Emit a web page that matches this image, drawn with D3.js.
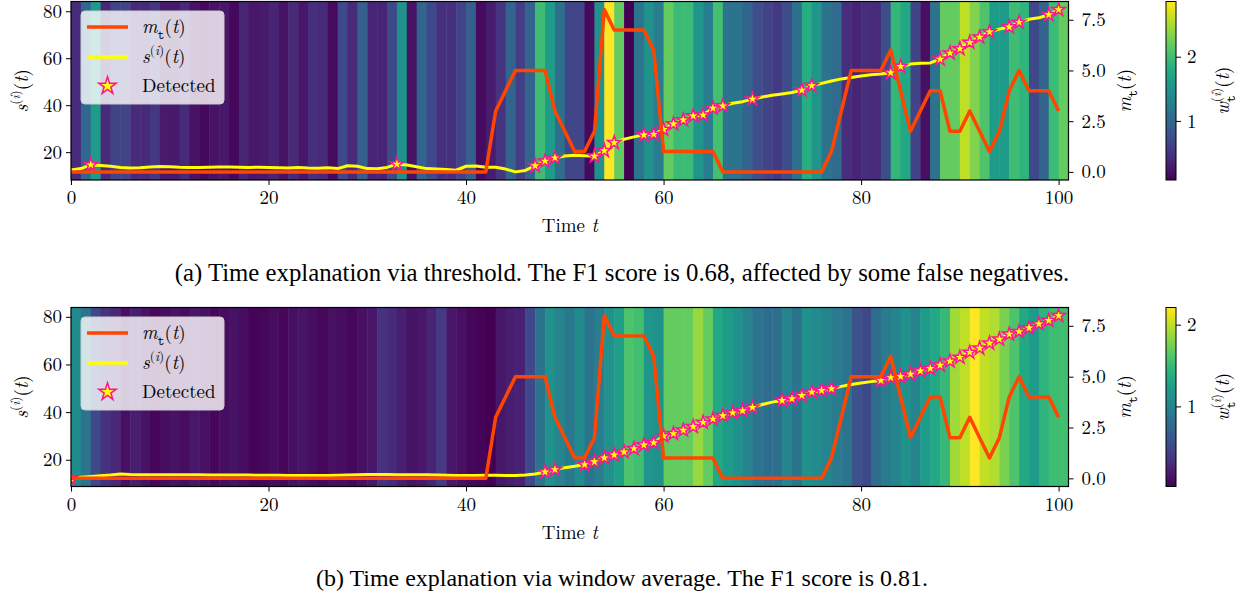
<!DOCTYPE html>
<html>
<head>
<meta charset="utf-8">
<script src="https://cdn.jsdelivr.net/npm/d3@7"></script>
<style>
  html, body { margin: 0; padding: 0; background: #fff; }
  svg { display: block; }
</style>
</head>
<body>
<svg id="chart" width="1244" height="602"></svg>
<script>
// Time explanation figure: a weight heatmap per time step, the anomaly score
// s(t), the detected steps (stars) and the true anomaly magnitude m_t(t).

// Time steps 0..100 (one heatmap cell per step).
var timeSteps = d3.range(0, 101);

// True anomaly magnitude, shared by both panels (right axis).
var mValues = [
  0, 0, 0, 0, 0, 0, 0, 0, 0, 0,
  0, 0, 0, 0, 0, 0, 0, 0, 0, 0,
  0, 0, 0, 0, 0, 0, 0, 0, 0, 0,
  0, 0, 0, 0, 0, 0, 0, 0, 0, 0,
  0, 0, 0, 3, 4, 5, 5, 5, 5, 3,
  2, 1, 1, 2, 8, 7, 7, 7, 7, 6,
  1, 1, 1, 1, 1, 1, 0, 0, 0, 0,
  0, 0, 0, 0, 0, 0, 0, 1, 3, 5,
  5, 5, 5, 6, 4, 2, 3, 4, 4, 2,
  2, 3, 2, 1, 2, 4, 5, 4, 4, 4,
  3
];

// Panel (a): threshold.
var sThreshold = [
  12.4, 13.0, 14.6, 14.3, 14.0, 13.5, 13.3, 13.4, 13.7, 13.9,
  13.8, 13.6, 13.5, 13.5, 13.6, 13.7, 13.7, 13.6, 13.5, 13.6,
  13.5, 13.4, 13.3, 13.5, 13.3, 13.2, 13.4, 13.0, 14.2, 14.0,
  13.0, 12.9, 13.5, 14.9, 14.5, 13.8, 13.0, 12.8, 12.6, 12.3,
  14.0, 14.1, 13.6, 13.6, 12.8, 11.6, 12.2, 14.2, 16.2, 17.6,
  18.4, 18.7, 18.5, 18.3, 20.6, 24.0, 25.5, 26.5, 27.3, 27.6,
  29.7, 32.0, 33.7, 35.4, 35.8, 38.7, 39.7, 40.8, 41.5, 42.6,
  43.5, 44.2, 44.8, 45.4, 46.4, 48.3, 49.3, 50.3, 51.2, 51.8,
  52.4, 53.0, 53.3, 53.8, 56.5, 57.5, 57.9, 58.0, 59.6, 62.2,
  64.0, 66.7, 69.0, 71.2, 72.4, 73.3, 75.3, 76.6, 77.2, 78.5,
  80.7
];
var wThreshold = [
  0.41, 1.00, 1.61, 0.41, 0.64, 0.64, 0.41, 0.41, 0.52, 0.27,
  0.27, 0.41, 0.22, 0.14, 0.22, 0.25, 0.14, 0.36, 0.25, 0.27,
  0.36, 0.22, 0.41, 0.25, 0.47, 0.41, 0.16, 0.69, 0.41, 0.91,
  0.36, 0.36, 0.69, 1.47, 0.22, 0.97, 0.69, 0.47, 0.47, 0.64,
  0.91, 0.16, 0.30, 0.50, 0.97, 0.58, 0.97, 2.00, 1.61, 1.08,
  0.66, 0.66, 0.16, 1.47, 2.86, 2.19, 0.08, 1.14, 1.47, 1.25,
  2.19, 1.97, 1.97, 1.53, 1.25, 2.03, 1.14, 1.14, 0.97, 0.75,
  0.64, 0.55, 0.72, 1.08, 1.80, 1.53, 1.14, 1.03, 0.44, 0.36,
  0.44, 0.41, 0.75, 1.91, 1.75, 0.64, 0.19, 1.14, 2.19, 2.19,
  2.58, 2.33, 2.08, 1.61, 1.61, 2.00, 1.89, 0.69, 0.97, 1.97,
  2.19
];
var detectedThreshold = [2, 33, 47, 48, 49, 53, 54, 55, 58, 59, 60, 61, 62,
  63, 64, 65, 66, 69, 74, 75, 83, 84, 88, 89, 90, 91, 92, 93, 95, 96, 99, 100];

// Panel (b): window average.
var sWindow = [
  12.2, 12.7, 13.0, 13.3, 13.6, 14.0, 13.8, 13.7, 13.7, 13.7,
  13.7, 13.7, 13.7, 13.7, 13.6, 13.6, 13.6, 13.6, 13.6, 13.5,
  13.5, 13.5, 13.4, 13.4, 13.4, 13.4, 13.4, 13.5, 13.6, 13.7,
  13.8, 13.8, 13.8, 13.7, 13.7, 13.7, 13.7, 13.6, 13.5, 13.4,
  13.4, 13.4, 13.5, 13.5, 13.4, 13.4, 13.6, 14.0, 14.9, 15.9,
  16.7, 17.3, 18.0, 19.2, 20.8, 22.0, 23.3, 24.7, 26.2, 27.2,
  30.0, 31.0, 32.4, 33.9, 35.7, 37.1, 38.5, 39.7, 40.6, 42.0,
  43.2, 44.2, 44.9, 45.6, 47.0, 48.4, 49.1, 49.8, 50.8, 51.6,
  52.2, 52.8, 53.3, 54.5, 55.0, 55.9, 57.3, 58.3, 59.7, 61.4,
  63.0, 65.1, 66.8, 68.9, 70.6, 72.7, 73.8, 75.3, 77.0, 78.5,
  80.5
];
var wWindow = [
  1.07, 0.85, 0.50, 0.33, 0.26, 0.11, 0.20, 0.13, 0.06, 0.09,
  0.13, 0.09, 0.15, 0.11, 0.06, 0.09, 0.13, 0.09, 0.04, 0.06,
  0.09, 0.06, 0.11, 0.13, 0.09, 0.06, 0.11, 0.09, 0.06, 0.11,
  0.15, 0.33, 0.28, 0.20, 0.13, 0.15, 0.24, 0.39, 0.15, 0.11,
  0.06, 0.04, 0.02, 0.15, 0.20, 0.22, 0.50, 0.85, 1.12, 1.01,
  0.90, 1.07, 0.85, 0.94, 1.12, 1.25, 1.60, 1.55, 1.16, 1.12,
  1.68, 1.68, 1.68, 1.86, 1.68, 1.33, 1.22, 1.12, 1.01, 0.85,
  0.79, 0.81, 1.01, 0.85, 1.12, 1.07, 1.01, 0.92, 0.85, 0.57,
  0.50, 0.79, 0.92, 1.01, 1.12, 1.01, 1.22, 1.33, 1.49, 1.90,
  1.99, 2.21, 2.01, 1.95, 1.77, 1.60, 1.33, 1.22, 1.44, 1.53,
  1.55
];
var detectedWindow = [0, 48, 49, 52, 53, 54, 55, 56, 57, 58, 59, 60, 61, 62,
  63, 64, 65, 66, 67, 68, 69, 72, 73, 74, 75, 76, 77, 82, 83, 84, 85, 86, 87,
  88, 89, 90, 91, 92, 93, 94, 95, 96, 97, 98, 99, 100];

// Tick values.
var xTicks = [0, 20, 40, 60, 80, 100];
var sTicks = [20, 40, 60, 80];
var mTicks = [0, 2.5, 5, 7.5];
var wTicks = [1, 2];

var captionA = '(a) Time explanation via threshold. The F1 score is 0.68, affected by some false negatives.';
var captionB = '(b) Time explanation via window average. The F1 score is 0.81.';

// Labels with math parts: i = italic, sub / sup = scripts, mono = typewriter.
// back = shift the superscript back over the subscript before it.
var labelM = [{t: 'm', i: 1}, {t: 't', sub: 1, mono: 1}, {t: '('}, {t: 't', i: 1}, {t: ')'}];
var labelS = [{t: 's', i: 1}, {t: '(', sup: 1}, {t: 'i', sup: 1, i: 1}, {t: ')', sup: 1},
  {t: '('}, {t: 't', i: 1}, {t: ')'}];
var labelW = [{t: 'w', i: 1}, {t: 't', sub: 1, mono: 1}, {t: '(', sup: 1, back: 1},
  {t: 'i', sup: 1, i: 1}, {t: ')', sup: 1}, {t: '('}, {t: 't', i: 1}, {t: ')'}];
var labelTime = [{t: 'Time '}, {t: 't', i: 1}];

// Fonts: Computer Modern look for the figure, Times for the captions.
var figFont = "'Latin Modern Roman', 'Liberation Serif', serif";
var monoFont = "'Latin Modern Mono', 'Liberation Mono', monospace";
var captionFont = "'Liberation Serif', 'Times New Roman', serif";

var lineRed = '#ff4500';
var lineYellow = '#ffff00';
var starEdge = '#ff1493';

var svg = d3.select('#chart').style('font-family', figFont);

var plotLeft = 71;
var plotRight = 1068.5;
var cbarLeft = 1166;
var cbarWidth = 10;

var panels = [
  {id: 'a', top: 1.5, height: 178.5, s: sThreshold, w: wThreshold,
    detected: detectedThreshold, caption: captionA, captionY: 281, captionWidth: 895},
  {id: 'b', top: 307.5, height: 179, s: sWindow, w: wWindow,
    detected: detectedWindow, caption: captionB, captionY: 586, captionWidth: 612}
];

/**
 * Append math-like tspans to a text element.
 */
function addMath(text, parts, size) {
  var shift = 0;
  var last = null;
  text.style('font-family', figFont);
  parts.forEach(function(p) {
    var target = p.sub ? 0.3 * size : (p.sup ? -0.42 * size : 0);
    var ts = text.append('tspan').text(p.t).attr('dy', target - shift);
    shift = target;
    if (p.i) ts.attr('font-style', 'italic');
    if (p.sub || p.sup) ts.attr('font-size', size * 0.7);
    if (p.mono) ts.style('font-family', monoFont);
    if (p.back && last) {
      ts.attr('dx', -last.node().getComputedTextLength());
    }
    last = ts;
  });
  return text;
}

function padded(values) {
  var ext = d3.extent(values);
  var pad = (ext[1] - ext[0]) * 0.05;
  return [ext[0] - pad, ext[1] + pad];
}

function styleAxis(g, size) {
  g.attr('font-family', null).attr('font-size', size);
  g.select('.domain').remove();
  g.selectAll('.tick line').attr('stroke', '#000').attr('stroke-width', 1);
  g.selectAll('.tick text').attr('fill', '#000').style('font-family', figFont);
}

function drawPanel(p) {
  var bottom = p.top + p.height;
  var x = d3.scaleLinear().domain([0, timeSteps.length]).range([plotLeft, plotRight]);
  var yS = d3.scaleLinear().domain(padded(p.s)).range([bottom, p.top]);
  var yM = d3.scaleLinear().domain(padded(mValues)).range([bottom, p.top]);
  var wExt = d3.extent(p.w);
  var color = d3.scaleSequential(d3.interpolateViridis).domain(wExt);

  var clipId = 'clip-' + p.id;
  svg.append('clipPath').attr('id', clipId)
    .append('rect')
      .attr('x', plotLeft).attr('y', p.top)
      .attr('width', plotRight - plotLeft).attr('height', p.height);

  var plot = svg.append('g').attr('clip-path', 'url(#' + clipId + ')');

  // Heatmap of the weights, one cell per time step.
  plot.append('g')
    .selectAll('rect')
    .data(timeSteps)
    .enter().append('rect')
      .attr('x', function(d) { return x(d); })
      .attr('width', function(d) { return x(d + 1) - x(d) + 0.5; })
      .attr('y', p.top)
      .attr('height', p.height)
      .attr('fill', function(d) { return color(p.w[d]); });

  // Score line.
  var sLine = d3.line()
    .x(function(d) { return x(d); })
    .y(function(d) { return yS(p.s[d]); });
  plot.append('path')
    .datum(timeSteps)
    .attr('d', sLine)
    .attr('fill', 'none')
    .attr('stroke', lineYellow)
    .attr('stroke-width', 3)
    .attr('stroke-linejoin', 'round');

  // Detected steps.
  var star = d3.symbol().type(d3.symbolStar).size(55);
  plot.append('g')
    .selectAll('path')
    .data(p.detected)
    .enter().append('path')
      .attr('d', star)
      .attr('transform', function(d) { return 'translate(' + x(d) + ',' + yS(p.s[d]) + ')'; })
      .attr('fill', lineYellow)
      .attr('stroke', starEdge)
      .attr('stroke-width', 1.5);

  // Anomaly magnitude on the twin axis (drawn on top).
  var mLine = d3.line()
    .x(function(d) { return x(d); })
    .y(function(d) { return yM(mValues[d]); });
  plot.append('path')
    .datum(timeSteps)
    .attr('d', mLine)
    .attr('fill', 'none')
    .attr('stroke', lineRed)
    .attr('stroke-width', 3.5)
    .attr('stroke-linejoin', 'round');

  // Frame.
  svg.append('rect')
    .attr('x', plotLeft).attr('y', p.top)
    .attr('width', plotRight - plotLeft).attr('height', p.height)
    .attr('fill', 'none').attr('stroke', '#000').attr('stroke-width', 1.2);

  // Axes.
  svg.append('g')
    .attr('transform', 'translate(0,' + bottom + ')')
    .call(d3.axisBottom(x).tickValues(xTicks).tickSize(5).tickPadding(6).tickFormat(d3.format('d')))
    .call(styleAxis, 19);
  svg.append('g')
    .attr('transform', 'translate(' + plotLeft + ',0)')
    .call(d3.axisLeft(yS).tickValues(sTicks).tickSize(5).tickPadding(4).tickFormat(d3.format('d')))
    .call(styleAxis, 19);
  svg.append('g')
    .attr('transform', 'translate(' + plotRight + ',0)')
    .call(d3.axisRight(yM).tickValues(mTicks).tickSize(5).tickPadding(8).tickFormat(d3.format('.1f')))
    .call(styleAxis, 19);

  // Axis titles.
  addMath(svg.append('text')
    .attr('x', (plotLeft + plotRight) / 2).attr('y', bottom + 52)
    .attr('text-anchor', 'middle').attr('font-size', 19), labelTime, 19);
  var midY = p.top + p.height / 2;
  addMath(svg.append('text')
    .attr('transform', 'translate(28,' + midY + ') rotate(-90)')
    .attr('text-anchor', 'middle').attr('font-size', 19), labelS, 19);
  addMath(svg.append('text')
    .attr('transform', 'translate(1131,' + midY + ') rotate(-90)')
    .attr('text-anchor', 'middle').attr('font-size', 19), labelM, 19);

  // Colorbar.
  var gradId = 'grad-' + p.id;
  var grad = svg.append('defs').append('linearGradient')
    .attr('id', gradId)
    .attr('x1', 0).attr('y1', 1).attr('x2', 0).attr('y2', 0);
  d3.range(0, 1.0001, 0.05).forEach(function(o) {
    grad.append('stop').attr('offset', o).attr('stop-color', d3.interpolateViridis(o));
  });
  svg.append('rect')
    .attr('x', cbarLeft).attr('y', p.top)
    .attr('width', cbarWidth).attr('height', p.height)
    .attr('fill', 'url(#' + gradId + ')')
    .attr('stroke', '#000').attr('stroke-width', 1);
  var wScale = d3.scaleLinear().domain(wExt).range([bottom, p.top]);
  svg.append('g')
    .attr('transform', 'translate(' + (cbarLeft + cbarWidth) + ',0)')
    .call(d3.axisRight(wScale).tickValues(wTicks).tickSize(5).tickPadding(6).tickFormat(d3.format('d')))
    .call(styleAxis, 19);
  addMath(svg.append('text')
    .attr('transform', 'translate(1229,' + midY + ') rotate(-90)')
    .attr('text-anchor', 'middle').attr('font-size', 19), labelW, 19);

  // Legend.
  var legend = svg.append('g')
    .attr('transform', 'translate(' + (plotLeft + 10) + ',' + (p.top + 9.5) + ')');
  legend.append('rect')
    .attr('width', 143).attr('height', 93).attr('rx', 4)
    .attr('fill', '#fff').attr('fill-opacity', 0.8)
    .attr('stroke', '#cccccc').attr('stroke-width', 1);
  var entries = [
    {label: labelM, type: 'line', color: lineRed, y: 16},
    {label: labelS, type: 'line', color: lineYellow, y: 46},
    {label: [{t: 'Detected'}], type: 'star', y: 75}
  ];
  entries.forEach(function(e) {
    if (e.type == 'line') {
      legend.append('line')
        .attr('x1', 6).attr('x2', 47).attr('y1', e.y).attr('y2', e.y)
        .attr('stroke', e.color).attr('stroke-width', 3.5);
    } else {
      legend.append('path')
        .attr('d', d3.symbol().type(d3.symbolStar).size(95))
        .attr('transform', 'translate(26.5,' + e.y + ')')
        .attr('fill', lineYellow).attr('stroke', starEdge).attr('stroke-width', 1.5);
    }
    addMath(legend.append('text')
      .attr('x', 61).attr('y', e.y + 6)
      .attr('font-size', 19), e.label, 19);
  });

  // Caption, sized so that it spans the same width as in the paper.
  var caption = svg.append('text')
    .attr('x', 622).attr('y', p.captionY)
    .attr('text-anchor', 'middle')
    .attr('font-size', 22)
    .style('font-family', captionFont)
    .text(p.caption);
  var len = caption.node().getComputedTextLength();
  if (len > 0) {
    caption.attr('font-size', 22 * p.captionWidth / len);
  }
}

panels.forEach(drawPanel);
</script>
</body>
</html>
